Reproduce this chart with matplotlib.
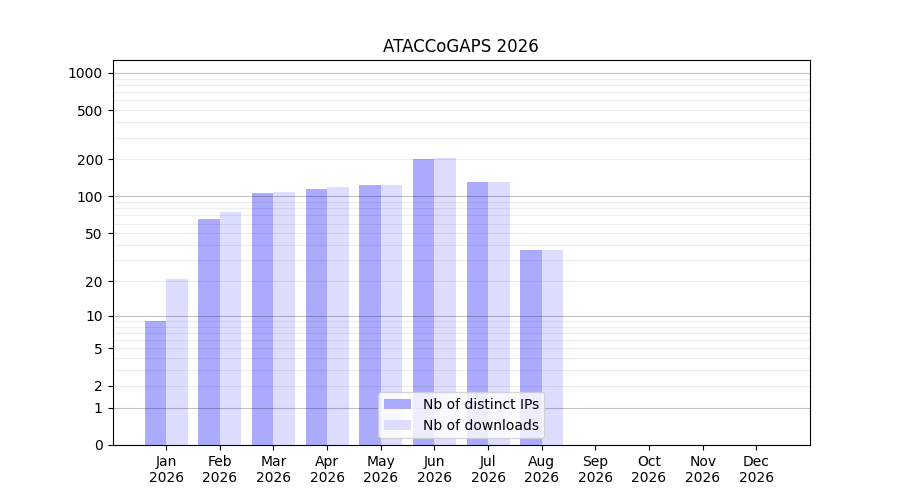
import numpy as np
import matplotlib
matplotlib.use('Agg')
import matplotlib.pyplot as plt

months = ["Jan", "Feb", "Mar", "Apr", "May", "Jun", "Jul", "Aug", "Sep", "Oct", "Nov", "Dec"]
year = "2026"
nb_ips = [9, 66, 107, 115, 124, 200, 131, 36, 0, 0, 0, 0]
nb_downloads = [21, 75, 109, 119, 124, 204, 131, 36, 0, 0, 0, 0]

tick_vals = [0, 1, 2, 5, 10, 20, 50, 100, 200, 500, 1000]
major_lines = [1, 10, 100, 1000]
minor_lines = [2, 3, 4, 5, 6, 7, 8, 9, 20, 30, 40, 50, 60, 70, 80, 90,
               200, 300, 400, 500, 600, 700, 800, 900]


def fwd(v):
    return np.log10(1 + np.maximum(v, 0))


def inv(v):
    return 10 ** v - 1


fig = plt.figure(figsize=(9, 5), dpi=100)
ax = fig.add_subplot(111)
ax.set_yscale('function', functions=(fwd, inv))

x = np.arange(1, 13)
w = 0.4
ax.bar(x - w / 2, nb_ips, width=w, color='#aaaaff', label='Nb of distinct IPs', zorder=2)
ax.bar(x + w / 2, nb_downloads, width=w, color='#ddddff', label='Nb of downloads', zorder=2)

# grid lines sit on top of the bars
for v in minor_lines:
    ax.axhline(v, color='black', alpha=0.07, linewidth=0.8, zorder=3)
for v in major_lines:
    ax.axhline(v, color='black', alpha=0.24, linewidth=0.8, zorder=3)

ax.set_yticks(tick_vals)
ax.set_yticklabels([str(v) for v in tick_vals])
ax.yaxis.set_minor_locator(matplotlib.ticker.NullLocator())
ax.set_ylim(0, 1270)
ax.set_xlim(0, 13)
ax.set_xticks(x)
ax.set_xticklabels([m + "\n" + year for m in months])
ax.set_title("ATACCoGAPS 2026")
ax.legend(loc='lower center')

fig.savefig("out.png", dpi=100)
